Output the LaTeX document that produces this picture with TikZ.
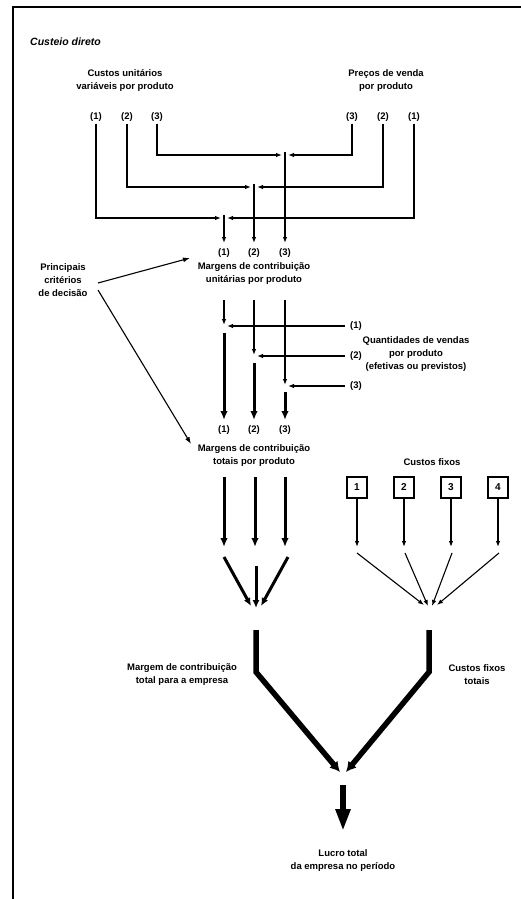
\documentclass[tikz,border=0pt]{standalone}
\usepackage{fontspec}
\setmainfont{Liberation Sans}
\usetikzlibrary{arrows.meta}
\begin{document}
\begin{tikzpicture}[x=1pt,y=-1pt,
  txt/.style={font=\bfseries\fontsize{9.5}{13}\selectfont, align=center, inner sep=0pt},
  thinarr/.style={line width=1.1pt, -{Latex[length=6pt,width=4.5pt]}},
  thickarr/.style={line width=3pt, -{Latex[length=9pt,width=7.5pt]}},
  convarr/.style={line width=3pt, -{Latex[length=8pt,width=7pt]}},
  bigarr/.style={line width=5.5pt, line join=miter, -{Latex[length=10pt,width=11pt]}},
  finalarr/.style={line width=5.5pt, -{Triangle[length=22pt,width=14pt]}},
  numbox/.style={draw, line width=1.2pt, minimum width=20pt, minimum height=21pt, inner sep=0pt, font=\bfseries\fontsize{10}{12}\selectfont}
]
\useasboundingbox (0,0) rectangle (521,899);
% frame
\draw[line width=1.5pt] (13,899) -- (13,7) -- (521,7);
% title
\node[anchor=west, inner sep=0pt, font=\bfseries\itshape\fontsize{10.5}{12}\selectfont] (title) at (30,42) {Custeio direto};
% heads
\node[txt] (cu) at (125,81) {Custos unitários\\variáveis por produto};
\node[txt] (pv) at (386,81) {Preços de venda\\por produto};
% top labels
\node[txt] (l1) at (96,117) {(1)};
\node[txt] (l2) at (127,117) {(2)};
\node[txt] (l3) at (157,117) {(3)};
\node[txt] (r3) at (352,117) {(3)};
\node[txt] (r2) at (383,117) {(2)};
\node[txt] (r1) at (414,117) {(1)};
% junction coordinates
\coordinate (j3L) at (282,155); \coordinate (j3R) at (288,155); \coordinate (v3) at (285,152);
\coordinate (j2L) at (251,187); \coordinate (j2R) at (257,187); \coordinate (v2) at (254,184);
\coordinate (j1L) at (221,218); \coordinate (j1R) at (227,218); \coordinate (v1) at (224,215);
\draw[thinarr] ([yshift=-2pt]l3.south) |- (j3L);
\draw[thinarr] ([yshift=-2pt]r3.south) |- (j3R);
\draw[thinarr] ([yshift=-2pt]l2.south) |- (j2L);
\draw[thinarr] ([yshift=-2pt]r2.south) |- (j2R);
\draw[thinarr] ([yshift=-2pt]l1.south) |- (j1L);
\draw[thinarr] ([yshift=-2pt]r1.south) |- (j1R);
% middle labels
\node[txt] (m1) at (224,253) {(1)};
\node[txt] (m2) at (254,253) {(2)};
\node[txt] (m3) at (285,253) {(3)};
\coordinate (w1) at (224,243); \coordinate (w2) at (254,243); \coordinate (w3) at (285,243);
\draw[thinarr] (v1) -- (w1);
\draw[thinarr] (v2) -- (w2);
\draw[thinarr] (v3) -- (w3);
\node[txt] (mu) at (254,274) {Margens de contribuição\\unitárias por produto};
% principais
\node[txt] (pc) at (63,280) {Principais\\critérios\\de decisão};
\coordinate (pcA) at (98,283);
\coordinate (pcB) at (98,290);
\coordinate (tipA) at (190,258);
\coordinate (tipB) at (191,444);
\draw[line width=1.1pt, -{Latex[length=7pt,width=5pt]}] (pcA) -- (tipA);
\draw[line width=1.1pt, -{Latex[length=7pt,width=5pt]}] (pcB) -- (tipB);
% quantities
\node[txt] (q1) at (356,326) {(1)};
\node[txt] (q2) at (356,356) {(2)};
\node[txt] (q3) at (356,386) {(3)};
\node[txt] (qv) at (416,354) {Quantidades de vendas\\por produto\\(efetivas ou previstos)};
\coordinate (a1) at (224,300); \coordinate (k1) at (224,325);
\coordinate (a2) at (254,300); \coordinate (k2) at (254,355);
\coordinate (a3) at (285,300); \coordinate (k3) at (285,385);
\coordinate (h1) at (227,326); \coordinate (h2) at (257,356); \coordinate (h3) at (288,386);
\draw[thinarr] (a1) -- (k1);
\draw[thinarr] (a2) -- (k2);
\draw[thinarr] (a3) -- (k3);
\draw[thinarr] ([xshift=-5pt]q1.west) -- (h1);
\draw[thinarr] ([xshift=-5pt]q2.west) -- (h2);
\draw[thinarr] ([xshift=-5pt]q3.west) -- (h3);
\coordinate (b1) at (224,333); \coordinate (b2) at (254,363); \coordinate (b3) at (285,392);
\node[txt] (n1) at (224,430) {(1)};
\node[txt] (n2) at (254,430) {(2)};
\node[txt] (n3) at (285,430) {(3)};
\coordinate (o1) at (224,420); \coordinate (o2) at (254,420); \coordinate (o3) at (285,420);
\draw[thickarr] (b1) -- (o1);
\draw[thickarr] (b2) -- (o2);
\draw[thickarr] (b3) -- (o3);
\node[txt] (mt) at (254,456) {Margens de contribuição\\totais por produto};
% fixed costs
\node[txt] (cf) at (432,462) {Custos fixos};
\node[numbox] (f1) at (357,487.5) {1};
\node[numbox] (f2) at (404,487.5) {2};
\node[numbox] (f3) at (451,487.5) {3};
\node[numbox] (f4) at (498,487.5) {4};
\coordinate (e1) at (357,547); \coordinate (e2) at (404,547);
\coordinate (e3) at (451,547); \coordinate (e4) at (498,547);
\draw[thinarr] (f1.south) -- (e1);
\draw[thinarr] (f2.south) -- (e2);
\draw[thinarr] (f3.south) -- (e3);
\draw[thinarr] (f4.south) -- (e4);
% thick down arrows
\coordinate (t1) at (224,477); \coordinate (t2) at (255,477); \coordinate (t3) at (285,477);
\coordinate (d1) at (224,547); \coordinate (d2) at (255,547); \coordinate (d3) at (285,547);
\draw[thickarr] (t1) -- (d1);
\draw[thickarr] (t2) -- (d2);
\draw[thickarr] (t3) -- (d3);
% converge left
\coordinate (c1) at (224,557); \coordinate (c2) at (256,566); \coordinate (c3) at (288,557);
\coordinate (g1) at (251,606); \coordinate (g2) at (256,608); \coordinate (g3) at (261,606);
\draw[convarr] (c1) -- (g1);
\draw[convarr] (c2) -- (g2);
\draw[convarr] (c3) -- (g3);
% converge right
\coordinate (s1) at (357,553); \coordinate (s2) at (405,553); \coordinate (s3) at (452,553); \coordinate (s4) at (499,553);
\coordinate (u1) at (424,605); \coordinate (u2) at (428,606); \coordinate (u3) at (432,606); \coordinate (u4) at (437,605);
\draw[thinarr] (s1) -- (u1);
\draw[thinarr] (s2) -- (u2);
\draw[thinarr] (s3) -- (u3);
\draw[thinarr] (s4) -- (u4);
% big lines
\coordinate (L0) at (256,630); \coordinate (L1) at (256,672); \coordinate (LT) at (340,772);
\coordinate (R0) at (429,630); \coordinate (R1) at (429,672); \coordinate (RT) at (346,772);
\draw[bigarr] (L0) -- (L1) -- (LT);
\draw[bigarr] (R0) -- (R1) -- (RT);
\node[txt] (mce) at (182,675) {Margem de contribuição\\total para a empresa};
\node[txt] (cft) at (477,675) {Custos fixos\\totais};
% final
\node[txt] (lt) at (343,861) {Lucro total\\da empresa no período};
\coordinate (f0) at (343,785);
\coordinate (fT) at (343,831);
\draw[finalarr] (f0) -- (fT);
\end{tikzpicture}
\end{document}
